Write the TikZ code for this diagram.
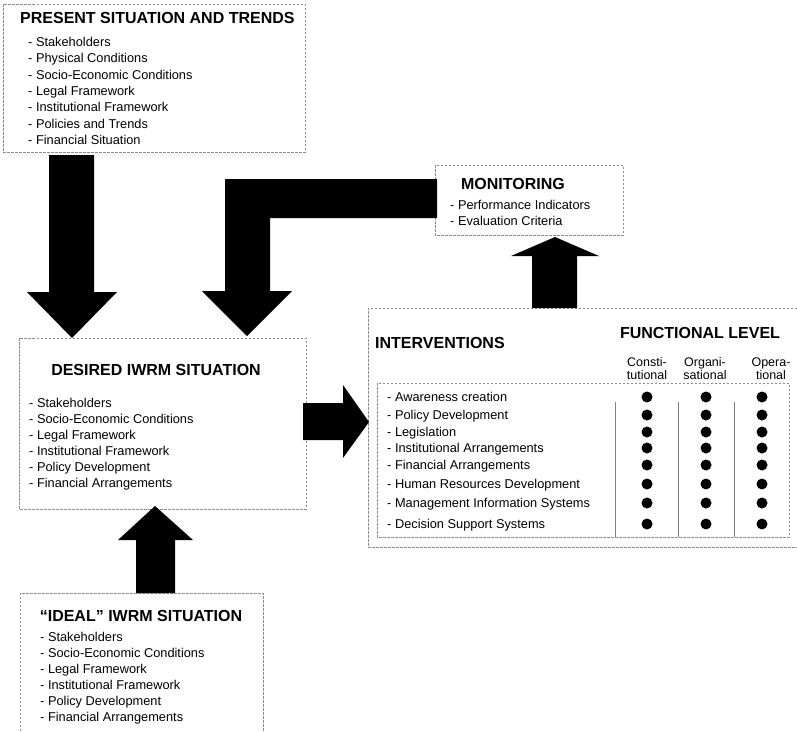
\documentclass[tikz,border=0pt]{standalone}
\usepackage{fontspec}
\setmainfont{Liberation Sans}
\begin{document}
\begin{tikzpicture}[x=1pt,y=-1pt,line join=miter,
    box/.style={draw=black!45,line width=.6pt,dash pattern=on 2.5pt off 1.5pt},
    sep/.style={draw=black!50,line width=.7pt},
    hd/.style={inner sep=0pt,text height=11.5pt,text depth=0pt,font=\fontsize{16}{19}\selectfont\bfseries},
    item/.style={anchor=west,inner sep=0pt,yshift=-1pt,text height=9.5pt,text depth=2.5pt,font=\fontsize{12.8}{15}\selectfont},
    colhd/.style={align=center,inner sep=0pt,font=\fontsize{12.5}{13.5}\selectfont}]
\useasboundingbox (0,0) rectangle (797,731);
% present situation
\draw[box] (3,4) rectangle (305,152);
\node[hd,anchor=west] (present) at (20,17.5) {PRESENT SITUATION AND TRENDS};
\foreach \t [count=\i] in {Stakeholders,Physical Conditions,Socio-Economic Conditions,Legal Framework,Institutional Framework,Policies and Trends,Financial Situation}
  \node[item] (present-\i) at (28,{42+16.3*(\i-1)}) {- \t};
% monitoring
\draw[box] (435,165) rectangle (623,235);
\node[hd] (monitoring) at (513,183.5) {MONITORING};
\node[item] (mon-1) at (450,205) {- Performance Indicators};
\node[item] (mon-2) at (450,221) {- Evaluation Criteria};
% desired situation
\draw[box] (19,338) rectangle (306,509);
\node[hd] (desired) at (156,369.5) {DESIRED IWRM SITUATION};
\foreach \t [count=\i] in {Stakeholders,Socio-Economic Conditions,Legal Framework,Institutional Framework,Policy Development,Financial Arrangements}
  \node[item] (desired-\i) at (29,{403+16*(\i-1)}) {- \t};
% ideal situation
\draw[box] (20,731) -- (20,593) -- (263,593) -- (263,731);
\node[hd] (ideal) at (141,615.5) {“IDEAL” IWRM SITUATION};
\foreach \t [count=\i] in {Stakeholders,Socio-Economic Conditions,Legal Framework,Institutional Framework,Policy Development,Financial Arrangements}
  \node[item] (ideal-\i) at (40,{637+16*(\i-1)}) {- \t};
% interventions
\draw[box] (797,308) -- (368,308) -- (368,547) -- (797,547);
\draw[box] (377,383) rectangle (789,537);
\node[hd,anchor=west] (interventions) at (375,342.5) {INTERVENTIONS};
\node[hd] (functional) at (700,332.5) {FUNCTIONAL LEVEL};
\node[colhd] (const) at (647,368.5) {Consti-\\tutional};
\node[colhd] (organ) at (705,368.5) {Organi-\\sational};
\node[colhd] (opera) at (771,368.5) {Opera-\\tional};
\foreach \x in {615,678,734}
  \draw[sep] (\x,402) -- (\x,537);
\foreach \t/\y [count=\i] in {Awareness creation/397,Policy Development/415,Legislation/432,Institutional Arrangements/448,Financial Arrangements/465,Human Resources Development/484,Management Information Systems/503,Decision Support Systems/524}{
  \node[item] (iv-\i) at (387,\y) {- \t};
  \foreach \x in {647,706,762} \fill (\x,\y) circle (5.5pt);
}
% block arrows
\fill (49,155) -- (94,155) -- (94,292) -- (117,292) -- (72,338) -- (27,292) -- (49,292) -- cycle;
\fill (437,179) -- (437,218) -- (270,218) -- (270,291) -- (292,291) -- (247,336)
  -- (202,291) -- (225,291) -- (225,179) -- cycle;
\fill (532,308) -- (577,308) -- (577,256) -- (599,256) -- (555,237) -- (511,256) -- (532,256) -- cycle;
\fill (303,403) -- (343,403) -- (343,385) -- (369,422) -- (343,458) -- (343,440) -- (303,440) -- cycle;
\fill (136,593) -- (175,593) -- (175,540) -- (193,540) -- (155,506) -- (118,540) -- (136,540) -- cycle;
\end{tikzpicture}
\end{document}
